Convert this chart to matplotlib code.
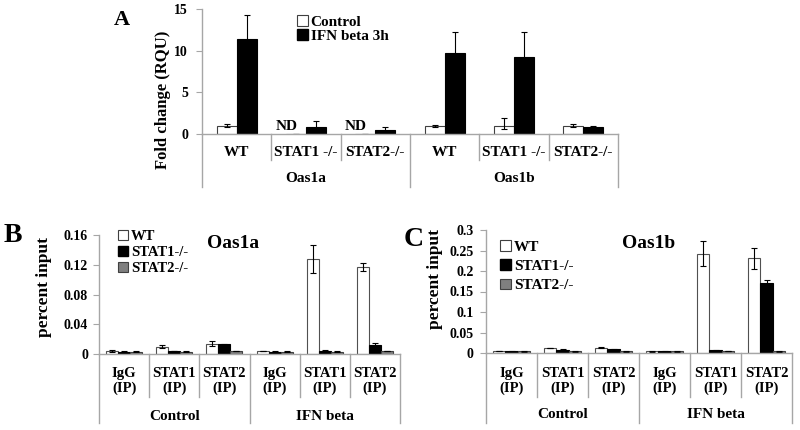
import numpy as np
import matplotlib
matplotlib.use("Agg")
import matplotlib.pyplot as plt
from matplotlib.patches import Patch
from matplotlib.lines import Line2D
from matplotlib.transforms import blended_transform_factory

plt.rcParams['font.family'] = ['Liberation Serif', 'DejaVu Serif']
plt.rcParams['font.weight'] = 'bold'

# ---------------- data ----------------
# Panel A
groups_A = ['Oas1a', 'Oas1b']
cats_A = ['WT', 'STAT1 -/-', 'STAT2-/-', 'WT', 'STAT1 -/-', 'STAT2-/-']
ctrl_A = [1.0, np.nan, np.nan, 1.0, 1.0, 1.0]
ctrl_A_err_lo = [0.2, 0.0, 0.0, 0.1, 0.45, 0.15]
ctrl_A_err_hi = [0.2, 0.0, 0.0, 0.1, 0.9, 0.15]
ifn_A = [11.4, 0.84, 0.48, 9.7, 9.2, 0.85]
ifn_A_err = [2.9, 0.75, 0.4, 2.5, 3.0, 0.15]
nd_A = ['', 'ND', 'ND', '', '', '']
series_A = ['Control', 'IFN beta 3h']
yticks_A = [0, 5, 10, 15]

# Panels B and C
groups_BC = ['Control', 'IFN beta']
cats_BC = ['IgG\n(IP)', 'STAT1\n(IP)', 'STAT2\n(IP)', 'IgG\n(IP)', 'STAT1\n(IP)', 'STAT2\n(IP)']
series_BC = ['WT', 'STAT1-/-', 'STAT2-/-']

wt_B = [0.004, 0.010, 0.014, 0.004, 0.128, 0.117]
s1_B = [0.003, 0.004, 0.013, 0.003, 0.004, 0.012]
s2_B = [0.003, 0.003, 0.004, 0.003, 0.003, 0.004]
wt_B_err = [0.001, 0.002, 0.003, 0.0005, 0.019, 0.006]
s1_B_err = [0.0005, 0.0005, 0.001, 0.0005, 0.0008, 0.003]
s2_B_err = [0.0005, 0.0005, 0.0005, 0.0005, 0.0005, 0.0005]
yticks_B = [0, 0.04, 0.08, 0.12, 0.16]
yticklabels_B = ['0', '0.04', '0.08', '0.12', '0.16']

wt_C = [0.005, 0.012, 0.013, 0.004, 0.242, 0.231]
s1_C = [0.004, 0.008, 0.009, 0.004, 0.007, 0.170]
s2_C = [0.004, 0.004, 0.004, 0.004, 0.005, 0.004]
wt_C_err = [0.001, 0.001, 0.001, 0.0005, 0.031, 0.025]
s1_C_err = [0.0005, 0.001, 0.001, 0.0005, 0.001, 0.008]
s2_C_err = [0.0005, 0.0005, 0.0005, 0.0005, 0.0005, 0.0005]
yticks_C = [0, 0.05, 0.1, 0.15, 0.2, 0.25, 0.3]
yticklabels_C = ['0', '0.05', '0.1', '0.15', '0.2', '0.25', '0.3']

# ---------------- layout helpers ----------------
W, H = 800, 430
fig = plt.figure(figsize=(8, 4.3), dpi=100)
GRAY = '#a6a6a6'


def px_axes(x0, x1, ytop, ybot):
    return fig.add_axes([x0 / W, (H - ybot) / H, (x1 - x0) / W, (ybot - ytop) / H])


def style_axes(ax, ticksize, pad):
    for s in ['top', 'right']:
        ax.spines[s].set_visible(False)
    for s in ['left', 'bottom']:
        ax.spines[s].set_color(GRAY)
        ax.spines[s].set_linewidth(1.0)
    ax.tick_params(axis='y', direction='out', length=4, color=GRAY, labelsize=ticksize, pad=pad)
    ax.tick_params(axis='x', length=0, labelbottom=False)
    for t in ax.get_yticklabels():
        t.set_fontweight('bold')


def category_axis(ax, cats, groups, hpx, lab_dy, grp_dy, short_dy, long_dy, fs_cat, fs_grp, linesp=1.15):
    trans = blended_transform_factory(ax.transData, ax.transAxes)
    n = len(cats)
    for i, c in enumerate(cats):
        ax.annotate(c, xy=(i, 0), xycoords=trans, xytext=(0, -lab_dy), textcoords='offset pixels',
                    ha='center', va='center', fontsize=fs_cat, fontweight='bold',
                    linespacing=linesp, annotation_clip=False)
    per = n // len(groups)
    for g, name in enumerate(groups):
        xc = g * per + (per - 1) / 2
        ax.annotate(name, xy=(xc, 0), xycoords=trans, xytext=(0, -grp_dy), textcoords='offset pixels',
                    ha='center', va='center', fontsize=fs_grp, fontweight='bold', annotation_clip=False)
    for k in range(n + 1):
        x = k - 0.5
        dy = long_dy if k % per == 0 else short_dy
        ax.add_line(Line2D([x, x], [0, -dy / hpx], transform=trans, color=GRAY, lw=1.0, clip_on=False))


# ---------------- Panel A ----------------
axA = px_axes(202, 618, 9, 134)
x = np.arange(len(cats_A))
bw = 0.29
ctrl_vals = np.nan_to_num(np.array(ctrl_A, dtype=float))
axA.bar(x - bw / 2, ctrl_vals, bw, color='white', edgecolor='#404040', linewidth=0.8,
        yerr=[ctrl_A_err_lo, ctrl_A_err_hi], error_kw=dict(ecolor='black', elinewidth=0.8, capsize=2.5, capthick=0.8))
axA.bar(x + bw / 2, ifn_A, bw, color='black', edgecolor='black', linewidth=0.8,
        yerr=ifn_A_err, error_kw=dict(ecolor='black', elinewidth=0.8, capsize=2.5, capthick=0.8))
for i, t in enumerate(nd_A):
    if t:
        axA.text(i - 0.28, 0.15, t, ha='center', va='bottom', fontsize=11, fontweight='bold')
axA.set_xlim(-0.5, len(cats_A) - 0.5)
axA.set_ylim(0, 15)
axA.set_yticks(yticks_A)
axA.set_yticklabels([str(v) for v in yticks_A])
style_axes(axA, 10, 6)
axA.set_ylabel('Fold change (RQU)', fontsize=12, fontweight='bold')
axA.yaxis.set_label_coords(-0.075, 0.27)
category_axis(axA, cats_A, groups_A, 125, 18, 45, 26, 53, 11, 11)
hA = [Patch(facecolor='white', edgecolor='#404040', lw=0.8), Patch(facecolor='black', edgecolor='black')]
axA.legend(hA, series_A, loc='upper left', bbox_to_anchor=(0.228, 0.95), frameon=False,
           handlelength=0.7, handleheight=0.7, handletextpad=0.2, labelspacing=0.0,
           borderpad=0, borderaxespad=0, prop=dict(size=11, weight='bold'))
fig.text(122 / W, 1 - 20 / H, 'A', ha='center', va='center', fontsize=16, fontweight='bold')


# ---------------- Panels B & C ----------------
def panel(ax, wt, s1, s2, e1, e2, e3, ymax, yt, ytl, hpx, title, title_xy, leg_xy, leg_sp, fs_leg,
          lab_dy, grp_dy, short_dy, long_dy, pad):
    xx = np.arange(len(cats_BC))
    w = 0.24
    ekw = dict(ecolor='black', elinewidth=0.8, capsize=2.5, capthick=0.8)
    ax.bar(xx - w, wt, w, color='white', edgecolor='#505050', linewidth=0.8, yerr=e1, error_kw=ekw)
    ax.bar(xx, s1, w, color='black', edgecolor='black', linewidth=0.8, yerr=e2, error_kw=ekw)
    ax.bar(xx + w, s2, w, color='#7f7f7f', edgecolor='#404040', linewidth=0.8, yerr=e3, error_kw=ekw)
    ax.set_xlim(-0.5, len(cats_BC) - 0.5)
    ax.set_ylim(0, ymax)
    ax.set_yticks(yt)
    ax.set_yticklabels(ytl)
    style_axes(ax, 10, pad)
    ax.text(title_xy[0], title_xy[1], title, transform=ax.transAxes, ha='center', va='center',
            fontsize=14, fontweight='bold')
    handles = [Patch(facecolor='white', edgecolor='#404040', lw=0.8),
               Patch(facecolor='black', edgecolor='black'),
               Patch(facecolor='#7f7f7f', edgecolor='#404040', lw=0.8)]
    ax.legend(handles, series_BC, loc='upper left', bbox_to_anchor=leg_xy, frameon=False,
              handlelength=0.7, handleheight=0.7, handletextpad=0.2, labelspacing=leg_sp,
              borderpad=0, borderaxespad=0, prop=dict(size=fs_leg, weight='bold'))
    category_axis(ax, cats_BC, groups_BC, hpx, lab_dy, grp_dy, short_dy, long_dy, 10.5, 11)


axB = px_axes(99, 400, 235, 354)
panel(axB, wt_B, s1_B, s2_B, wt_B_err, s1_B_err, s2_B_err, 0.16, yticks_B, yticklabels_B, 119,
      'Oas1a', (0.445, 0.93), (0.063, 1.045), 0.2, 10.5, 27, 63, 43, 69, 4)
axB.set_ylabel('percent input', fontsize=12.5, fontweight='bold')
axB.yaxis.set_label_coords(-0.156, 0.56)
fig.text(13 / W, 1 - 235 / H, 'B', ha='center', va='center', fontsize=20, fontweight='bold')

axC = px_axes(486, 792, 230, 353)
panel(axC, wt_C, s1_C, s2_C, wt_C_err, s1_C_err, s2_C_err, 0.3, yticks_C, yticklabels_C, 123,
      'Oas1b', (0.53, 0.894), (0.046, 0.915), 0.35, 11, 28, 62, 44, 70, 5)
axC.set_ylabel('percent input', fontsize=12.5, fontweight='bold')
axC.yaxis.set_label_coords(-0.141, 0.60)
fig.text(414 / W, 1 - 239 / H, 'C', ha='center', va='center', fontsize=20, fontweight='bold')

fig.savefig('out.png', dpi=100)
